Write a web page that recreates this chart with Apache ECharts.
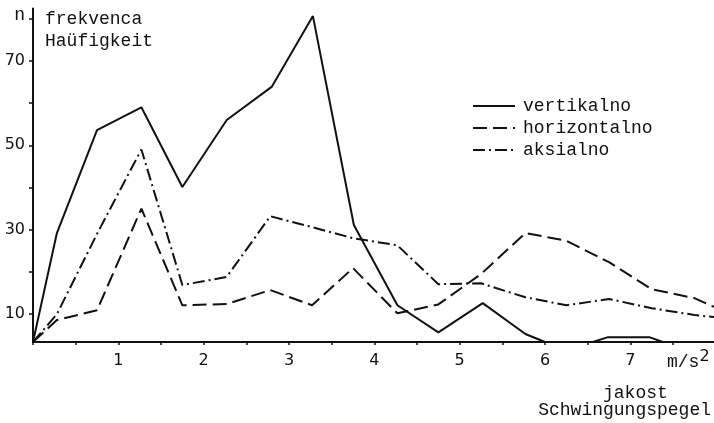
<!DOCTYPE html>
<html><head><meta charset="utf-8">
<script src="https://cdn.jsdelivr.net/npm/echarts@6/dist/echarts.min.js"></script>
<style>html,body{margin:0;padding:0;background:#fff}#c{width:714px;height:423px}</style>
</head><body><div id="c"></div>
<script>
// x positions (m/s^2) shared by horizontalno and aksialno
const xBins = [0, 0.28, 0.75, 1.27, 1.75, 2.27, 2.78, 3.27, 3.75, 4.27, 4.75, 5.25, 5.77, 6.25, 6.75, 7.25, 7.75, 7.98];
const horizontalno = [3.4, 8.6, 10.9, 35, 12.1, 12.4, 15.7, 12.1, 20.9, 10.2, 12.3, 19.5, 29.2, 27.4, 22.3, 15.9, 13.8, 11.7];
const aksialno     = [3.4, 10, 29, 49, 16.9, 18.8, 33.2, 30.6, 28, 26.3, 17.1, 17.3, 14, 12.1, 13.6, 11.4, 9.8, 9.3];
// vertikalno has its own x positions
const xVertikalno = [0, 0.28, 0.75, 1.27, 1.75, 2.27, 2.8, 3.28, 3.76, 4.27, 4.75, 5.27, 5.77, 6.0, 6.56, 6.73, 7.23, 7.38, 7.98];
const vertikalno  = [3.4, 29.2, 53.6, 59, 40.1, 56, 63.9, 80.6, 31.1, 12.1, 5.7, 12.6, 5.3, 3.4, 3.4, 4.5, 4.5, 3.4, 3.4];

const seriesNames = ['vertikalno', 'horizontalno', 'aksialno'];
const xTickLabels = [1, 2, 3, 4, 5, 6, 7];
const yTickLabels = [10, 30, 50, 70];
const yTicks = [10, 20, 30, 40, 50, 60, 70, 80];
const yTopLabel = 80; // drawn as "n"
const Y_MIN = 3.4, Y_MAX = 82.4, X_MAX = 7.98;

const INK = '#111';
const MONO = "'Liberation Mono', 'DejaVu Sans Mono', monospace";
const SANS = "'DejaVu Sans', sans-serif";

function pairs(xs, ys) { return xs.map((x, i) => [x, ys[i]]); }

const chart = echarts.init(document.getElementById('c'), null, {renderer: 'canvas'});
chart.setOption({
  animation: false,
  backgroundColor: '#fff',
  grid: {left: 33, right: 0, top: 8.5, bottom: 81},
  legend: {
    data: seriesNames,
    orient: 'vertical',
    left: 467, top: 92,
    itemWidth: 42, itemHeight: 14, itemGap: 4,
    itemStyle: {opacity: 0},
    textStyle: {fontFamily: MONO, fontSize: 18, color: INK, padding: [0, 0, 0, 3]}
  },
  xAxis: {
    type: 'value', min: 0, max: X_MAX, interval: 0.5,
    axisLine: {show: true, lineStyle: {color: INK, width: 2}},
    axisTick: {show: true, length: 3, lineStyle: {color: INK, width: 1.5}},
    axisLabel: {
      color: INK, fontFamily: SANS, fontSize: 16, margin: 11, showMaxLabel: false,
      formatter: v => xTickLabels.indexOf(v) >= 0 ? String(v) : ''
    },
    splitLine: {show: false}
  },
  yAxis: {
    type: 'value', min: Y_MIN, max: Y_MAX,
    axisLine: {show: true, lineStyle: {color: INK, width: 2}},
    axisTick: {show: true, length: 4, customValues: yTicks, lineStyle: {color: INK, width: 1.5}},
    axisLabel: {
      color: INK, fontFamily: SANS, fontSize: 16, margin: 8,
      customValues: yTickLabels.concat([yTopLabel]),
      formatter: v => v === yTopLabel ? '{n|n}' : String(v),
      rich: {n: {fontFamily: MONO, fontSize: 18, color: INK, padding: [0, 0, 6, 0]}}
    },
    splitLine: {show: false}
  },
  series: [
    {name: seriesNames[0], type: 'line', symbol: 'none', data: pairs(xVertikalno, vertikalno),
     lineStyle: {color: INK, width: 2, type: 'solid'}, itemStyle: {color: INK}},
    {name: seriesNames[1], type: 'line', symbol: 'none', data: pairs(xBins, horizontalno),
     lineStyle: {color: INK, width: 2, type: [14, 6]}, itemStyle: {color: INK}},
    {name: seriesNames[2], type: 'line', symbol: 'none', data: pairs(xBins, aksialno),
     lineStyle: {color: INK, width: 2, type: [12, 4, 2, 4]}, itemStyle: {color: INK}}
  ],
  graphic: [
    {type: 'text', x: 45, y: 19, style: {text: 'frekvenca', font: '18px ' + MONO, fill: INK, verticalAlign: 'middle'}},
    {type: 'text', x: 45, y: 41, style: {text: 'Haüfigkeit', font: '18px ' + MONO, fill: INK, verticalAlign: 'middle'}},
    {type: 'text', x: 667, y: 362, style: {
      text: '{a|m/s}{s|2}', verticalAlign: 'middle', fill: INK,
      rich: {a: {fontFamily: MONO, fontSize: 18, color: INK}, s: {fontFamily: SANS, fontSize: 16, color: INK, padding: [0, 0, 10, 0]}}
    }},
    {type: 'text', x: 603, y: 393, style: {text: 'jakost', font: '18px ' + MONO, fill: INK, verticalAlign: 'middle'}},
    {type: 'text', x: 711, y: 410, style: {text: 'Schwingungspegel', font: '18px ' + MONO, fill: INK, align: 'right', verticalAlign: 'middle'}}
  ]
});
</script>
</body></html>
